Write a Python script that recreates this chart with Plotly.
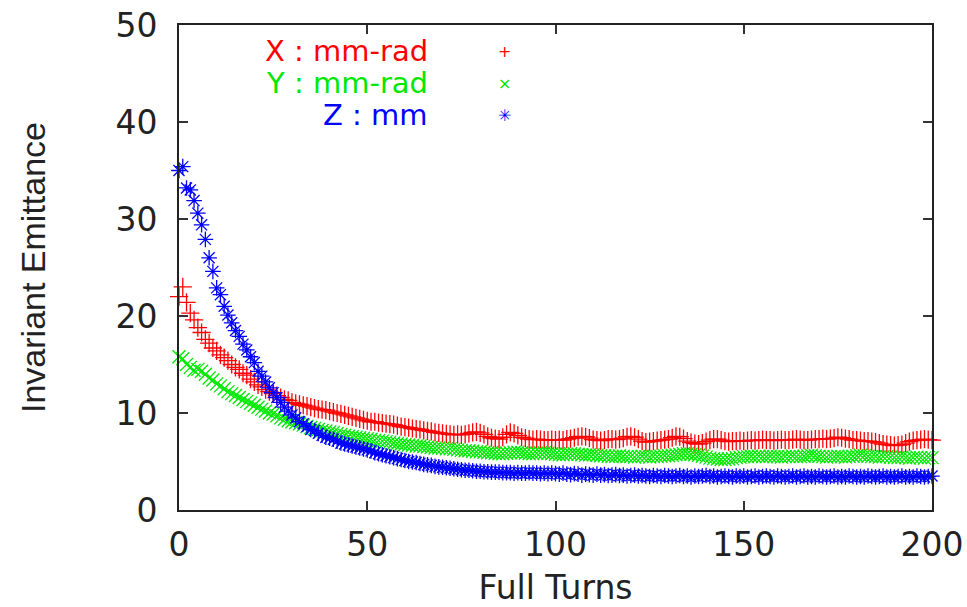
import plotly.graph_objects as go

turns = list(range(201))

x_emit = [
    22.0, 23.0, 21.4, 20.3, 19.6, 18.8, 18.3, 17.6, 17.2, 16.7,
    16.4, 16.0, 15.7, 15.4, 15.0, 14.7, 14.5, 14.1, 13.9, 13.5,
    13.2, 12.9, 12.7, 12.4, 12.2, 12.0, 11.8, 11.6, 11.4, 11.3,
    11.1, 11.0, 10.9, 10.8, 10.7, 10.6, 10.5, 10.4, 10.35, 10.3,
    10.2, 10.1, 10.0, 9.9, 9.8, 9.7, 9.6, 9.5, 9.4, 9.3,
    9.2, 9.1, 9.1, 9.0, 8.95, 8.9, 8.85, 8.8, 8.7, 8.6,
    8.55, 8.5, 8.4, 8.35, 8.3, 8.2, 8.15, 8.1, 8.0, 7.95,
    7.9, 7.85, 7.8, 7.75, 7.8, 7.75, 7.8, 7.9, 8.0, 8.05,
    7.95, 7.8, 7.6, 7.45, 7.35, 7.3, 7.5, 7.8, 8.0, 7.9,
    7.7, 7.5, 7.4, 7.3, 7.25, 7.3, 7.25, 7.2, 7.2, 7.25,
    7.2, 7.25, 7.2, 7.3, 7.35, 7.45, 7.55, 7.6, 7.55, 7.4,
    7.25, 7.2, 7.15, 7.2, 7.3, 7.3, 7.25, 7.3, 7.4, 7.55,
    7.6, 7.5, 7.3, 7.1, 7.0, 7.05, 7.1, 7.15, 7.2, 7.25,
    7.3, 7.45, 7.6, 7.55, 7.35, 7.1, 6.95, 6.85, 6.8, 6.9,
    7.05, 7.2, 7.3, 7.3, 7.2, 7.1, 7.05, 7.1, 7.1, 7.15,
    7.1, 7.15, 7.2, 7.15, 7.2, 7.25, 7.2, 7.2, 7.15, 7.2,
    7.25, 7.2, 7.2, 7.25, 7.3, 7.25, 7.2, 7.2, 7.25, 7.3,
    7.3, 7.35, 7.3, 7.35, 7.4, 7.5, 7.45, 7.35, 7.3, 7.2,
    7.2, 7.15, 7.1, 7.1, 7.05, 7.0, 6.9, 6.8, 6.75, 6.7,
    6.65, 6.7, 6.75, 6.9, 7.05, 7.15, 7.2, 7.25, 7.3, 7.25,
    7.2,
]

y_emit = [
    15.8, 15.6, 15.0, 14.7, 14.4, 14.5, 14.3, 14.0, 13.6, 13.4,
    13.0, 12.8, 12.5, 12.2, 12.0, 11.8, 11.6, 11.4, 11.2, 11.0,
    10.8, 10.6, 10.4, 10.2, 10.0, 9.9, 9.7, 9.5, 9.35, 9.2,
    9.1, 9.0, 8.9, 8.75, 8.6, 8.5, 8.4, 8.3, 8.2, 8.15,
    8.05, 8.0, 7.9, 7.8, 7.7, 7.6, 7.55, 7.5, 7.45, 7.4,
    7.35, 7.3, 7.2, 7.15, 7.1, 7.05, 7.0, 6.9, 6.85, 6.8,
    6.75, 6.7, 6.65, 6.6, 6.6, 6.55, 6.5, 6.45, 6.4, 6.4,
    6.35, 6.3, 6.3, 6.25, 6.2, 6.15, 6.1, 6.1, 6.05, 6.0,
    6.0, 5.95, 5.9, 5.9, 5.85, 5.8, 5.8, 5.85, 5.9, 5.95,
    5.95, 5.9, 5.85, 5.8, 5.8, 5.85, 5.9, 5.9, 5.85, 5.8,
    5.75, 5.7, 5.7, 5.75, 5.8, 5.8, 5.75, 5.7, 5.65, 5.7,
    5.7, 5.65, 5.6, 5.6, 5.55, 5.5, 5.55, 5.6, 5.55, 5.5,
    5.5, 5.45, 5.5, 5.55, 5.5, 5.45, 5.5, 5.5, 5.55, 5.6,
    5.6, 5.65, 5.7, 5.75, 5.8, 5.8, 5.75, 5.7, 5.65, 5.55,
    5.45, 5.35, 5.3, 5.25, 5.2, 5.2, 5.25, 5.3, 5.4, 5.45,
    5.5, 5.5, 5.55, 5.5, 5.55, 5.5, 5.5, 5.55, 5.5, 5.5,
    5.45, 5.5, 5.5, 5.55, 5.5, 5.5, 5.55, 5.6, 5.65, 5.6,
    5.55, 5.5, 5.45, 5.5, 5.5, 5.55, 5.5, 5.45, 5.5, 5.55,
    5.6, 5.65, 5.6, 5.55, 5.5, 5.5, 5.45, 5.5, 5.5, 5.45,
    5.4, 5.4, 5.45, 5.4, 5.35, 5.4, 5.45, 5.4, 5.35, 5.4,
    5.4,
]

z_emit = [
    35.0, 35.4, 33.2, 33.0, 31.9, 30.6, 29.4, 27.9, 26.0, 24.6,
    22.9, 22.2, 21.0, 20.1, 19.3, 18.5, 17.9, 17.1, 16.5, 15.8,
    15.2, 14.3, 13.8, 13.2, 12.6, 12.1, 11.6, 11.1, 10.6, 10.2,
    9.8, 9.5, 9.1, 8.9, 8.6, 8.3, 8.2, 7.9, 7.7, 7.5,
    7.4, 7.3, 7.1, 6.9, 6.8, 6.7, 6.6, 6.5, 6.4, 6.3,
    6.2, 6.1, 5.9, 5.8, 5.7, 5.6, 5.5, 5.4, 5.3, 5.2,
    5.1, 5.0, 4.95, 4.9, 4.8, 4.7, 4.65, 4.6, 4.5, 4.45,
    4.4, 4.35, 4.3, 4.25, 4.2, 4.15, 4.1, 4.1, 4.05, 4.0,
    4.0, 3.95, 3.95, 3.9, 3.9, 3.9, 3.85, 3.85, 3.85, 3.8,
    3.85, 3.8, 3.8, 3.85, 3.8, 3.8, 3.75, 3.8, 3.75, 3.8,
    3.75, 3.7, 3.8, 3.7, 3.65, 3.75, 3.7, 3.6, 3.7, 3.65,
    3.6, 3.7, 3.6, 3.65, 3.55, 3.6, 3.65, 3.55, 3.6, 3.5,
    3.55, 3.6, 3.5, 3.55, 3.5, 3.45, 3.55, 3.5, 3.45, 3.55,
    3.5, 3.45, 3.5, 3.55, 3.45, 3.5, 3.4, 3.5, 3.45, 3.5,
    3.55, 3.45, 3.5, 3.4, 3.45, 3.5, 3.45, 3.4, 3.5, 3.45,
    3.5, 3.4, 3.45, 3.5, 3.4, 3.45, 3.5, 3.45, 3.4, 3.5,
    3.45, 3.4, 3.45, 3.5, 3.4, 3.45, 3.5, 3.4, 3.45, 3.4,
    3.5, 3.45, 3.4, 3.45, 3.5, 3.4, 3.45, 3.4, 3.5, 3.45,
    3.4, 3.45, 3.4, 3.5, 3.45, 3.4, 3.45, 3.5, 3.4, 3.45,
    3.4, 3.45, 3.5, 3.4, 3.45, 3.4, 3.5, 3.45, 3.4, 3.45,
    3.5,
]

series_labels = ["X : mm-rad", "Y : mm-rad", "Z : mm"]
series_colors = ["#ff0000", "#00e800", "#0000ff"]
series_symbols = ["cross-thin-open", "x-thin-open", "asterisk-open"]
legend_glyphs = ["+", "×", "✳"]
x_ticks = [0, 50, 100, 150, 200]
y_ticks = [0, 10, 20, 30, 40, 50]

fig = go.Figure()
for label, vals, col, sym in zip(series_labels, [x_emit, y_emit, z_emit], series_colors, series_symbols):
    fig.add_trace(go.Scatter(
        x=turns[:len(vals)], y=vals, mode="markers", name=label,
        cliponaxis=False, showlegend=False,
        marker=dict(symbol=sym, size=13, color=col, line=dict(color=col, width=1.3)),
    ))

# legend (text right aligned, symbol to the right, as in gnuplot)
leg_y = [0.9454, 0.8794, 0.8144]
for label, col, glyph, yy in zip(series_labels, series_colors, legend_glyphs, leg_y):
    fig.add_annotation(xref="paper", yref="paper", x=0.3333, y=yy, xanchor="right", yanchor="middle",
                       text=label, showarrow=False, font=dict(family="DejaVu Sans", size=29, color=col))
    fig.add_annotation(xref="paper", yref="paper", x=0.4329, y=yy, xanchor="center", yanchor="middle",
                       text=glyph, showarrow=False, font=dict(family="DejaVu Sans", size=16, color=col))

axis_common = dict(showline=True, linecolor="#222222", linewidth=2, mirror="allticks",
                   ticks="inside", ticklen=9, tickwidth=2, tickcolor="#333333",
                   showgrid=False, zeroline=False, automargin=False,
                   tickfont=dict(family="DejaVu Sans", size=33, color="#222222"))

fig.update_xaxes(range=[0, 200], tickvals=x_ticks, ticklabelstandoff=4,
                 title=dict(text="Full Turns", standoff=20,
                            font=dict(family="DejaVu Sans", size=33, color="#222222")),
                 **axis_common)
fig.update_yaxes(range=[0, 50], tickvals=y_ticks, ticklabelstandoff=13,
                 title=dict(text="Invariant Emittance", standoff=60,
                            font=dict(family="Liberation Sans", size=34, color="#222222")),
                 **axis_common)

fig.update_layout(template="none", width=967, height=607, plot_bgcolor="white", paper_bgcolor="white",
                  margin=dict(l=179, r=35, t=25, b=97, autoexpand=False), showlegend=False)

fig.write_html("out.html", config={"displayModeBar": False},
               post_script="document.body.style.margin='0';")
